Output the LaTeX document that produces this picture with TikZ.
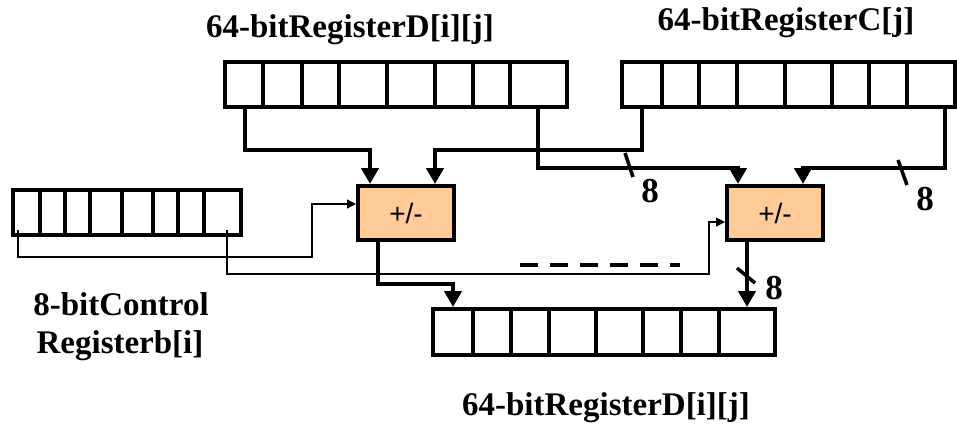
\documentclass[tikz,border=0pt]{standalone}
\usepackage{fontspec}
\setmainfont{Liberation Serif}
\newfontfamily\arialfont{Liberation Sans}
\usetikzlibrary{arrows.meta}
\definecolor{peach}{RGB}{255,204,153}
\begin{document}
\begin{tikzpicture}[x=1pt,y=-1pt,
  reg/.style={draw=black,line width=4pt,fill=white,rectangle,inner sep=0pt,minimum height=45pt},
  cellline/.style={line width=4pt},
  adder/.style={draw=black,line width=4pt,fill=peach,rectangle,inner sep=0pt,minimum width=96pt,minimum height=54pt,font=\arialfont\fontsize{28}{30}\selectfont},
  wire/.style={line width=4.5pt,-{Triangle[length=16pt,width=17pt]}},
  thinwire/.style={line width=1.3pt,-{Triangle[length=9pt,width=9pt]}},
  slash/.style={line width=3.5pt},
  lab/.style={font=\bfseries\fontsize{33}{36}\selectfont,anchor=base,inner sep=0pt},
  eight/.style={font=\bfseries\fontsize{35}{38}\selectfont,anchor=base,inner sep=0pt}]
\useasboundingbox (0,0) rectangle (957,432);

% registers
\node[reg,minimum width=342pt] (regD) at (396,84.5) {};
\foreach \x in {263,302,339,387,435,473,510} \draw[cellline] (\x,62) -- (\x,107);
\node[reg,minimum width=333pt] (regC) at (788.5,84.5) {};
\foreach \x in {662,699,737,785,832,869,907} \draw[cellline] (\x,62) -- (\x,107);
\node[reg,minimum width=228pt] (regB) at (127,212.5) {};
\foreach \x in {40,65,90,122,153,178,204} \draw[cellline] (\x,190) -- (\x,235);
\node[reg,minimum width=342pt,minimum height=46pt] (regO) at (604,332) {};
\foreach \x in {473,511,549,596,643,681,719} \draw[cellline] (\x,309) -- (\x,355);

% adders
\node[adder] (add1) at (406,213) {+/-};
\node[adder] (add2) at (775,213) {+/-};

% coordinates
\coordinate (a1) at (245,150); \coordinate (b1) at (370,150);
\coordinate (c1) at (642,150); \coordinate (b2) at (435,150);
\coordinate (a3) at (538,168); \coordinate (b3) at (738,168);
\coordinate (c4) at (945,168); \coordinate (b4) at (803,168);
\coordinate (o1) at (378,284); \coordinate (p1) at (453,284);
\coordinate (o2) at (747,280);
\coordinate (t1) at (18,230); \coordinate (t1b) at (312,257); \coordinate (t1c) at (312,204);
\coordinate (t2) at (227,230); \coordinate (t2b) at (709,274); \coordinate (t2c) at (709,222);

% thick wires
\draw[wire] (regD.south -| a1) |- (b1) -- (add1.north -| b1);
\draw[wire] (regC.south -| c1) |- (b2) -- (add1.north -| b2);
\draw[wire] (regD.south -| a3) |- (b3) -- (add2.north -| b3);
\draw[wire] (regC.south -| c4) |- (b4) -- (add2.north -| b4);
\draw[wire] (add1.south -| o1) |- (p1) -- (regO.north -| p1);
\draw[wire] (add2.south -| o2) -- (regO.north -| o2);

% thin control wires
\draw[thinwire] (t1) |- (t1b) -- (t1c) -- (add1.west |- t1c);
\draw[thinwire] (t2) |- (t2b) -- (t2c) -- (add2.west |- t2c);

% bus width slashes
\draw[slash] (625,153) -- (633,177);
\draw[slash] (898,160) -- (907,185);
\draw[slash] (737,268) -- (755,283);

% dashed continuation
\draw[line width=4pt,dash pattern=on 18pt off 12pt] (520,265) -- (680,265);

% labels
\node[eight] (n1) at (650,202) {8};
\node[eight] (n2) at (925,210) {8};
\node[eight] (n3) at (774,299) {8};
\node[lab] (lD) at (350,37) {64-bitRegisterD[i][j]};
\node[lab] (lC) at (786,30) {64-bitRegisterC[j]};
\node[lab] (lB1) at (121,315) {8-bitControl};
\node[lab] (lB2) at (120,353) {Registerb[i]};
\node[lab] (lO) at (606,415) {64-bitRegisterD[i][j]};
\end{tikzpicture}
\end{document}
